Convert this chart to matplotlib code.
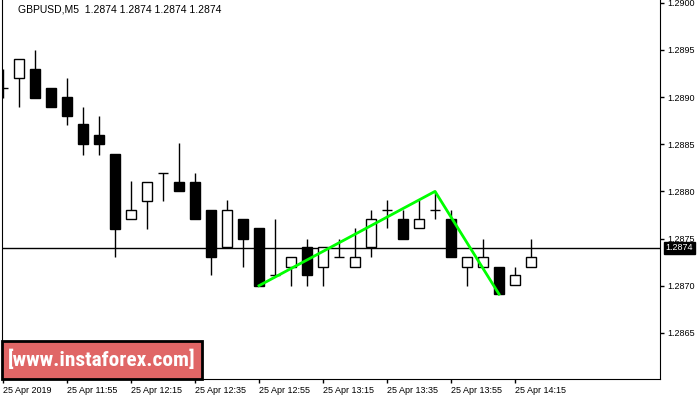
import matplotlib
matplotlib.use("Agg")
import matplotlib.pyplot as plt
from matplotlib import font_manager
from matplotlib.patches import Rectangle

# GBPUSD M5, 25 Apr 2019, candles from 11:35
opens = [1.28910, 1.28920, 1.28930, 1.28910, 1.28900, 1.28871, 1.28860, 1.28840,
         1.28771, 1.28790, 1.28820, 1.28810, 1.28810, 1.28780, 1.28741, 1.28771,
         1.28761, 1.28711, 1.28720, 1.28741, 1.28720, 1.28730, 1.28720, 1.28741,
         1.28780, 1.28771, 1.28761, 1.28780, 1.28771, 1.28720, 1.28720, 1.28720,
         1.28701, 1.28720]
highs = [1.28930, 1.28940, 1.28950, 1.28910, 1.28920, 1.28889, 1.28880, 1.28840,
         1.28811, 1.28810, 1.28820, 1.28851, 1.28820, 1.28780, 1.28791, 1.28771,
         1.28761, 1.28771, 1.28730, 1.28750, 1.28741, 1.28750, 1.28761, 1.28780,
         1.28791, 1.28780, 1.28791, 1.28800, 1.28780, 1.28730, 1.28750, 1.28720,
         1.28720, 1.28750]
lows = [1.28899, 1.28889, 1.28899, 1.28889, 1.28870, 1.28839, 1.28839, 1.28730,
        1.28771, 1.28760, 1.28790, 1.28800, 1.28771, 1.28711, 1.28741, 1.28720,
        1.28700, 1.28711, 1.28700, 1.28700, 1.28700, 1.28730, 1.28720, 1.28730,
        1.28761, 1.28750, 1.28761, 1.28771, 1.28730, 1.28700, 1.28720, 1.28691,
        1.28701, 1.28720]
closes = [1.28910, 1.28940, 1.28899, 1.28889, 1.28880, 1.28850, 1.28850, 1.28760,
          1.28780, 1.28810, 1.28820, 1.28800, 1.28771, 1.28730, 1.28780, 1.28750,
          1.28700, 1.28711, 1.28730, 1.28711, 1.28741, 1.28730, 1.28730, 1.28771,
          1.28780, 1.28750, 1.28771, 1.28780, 1.28730, 1.28730, 1.28730, 1.28691,
          1.28711, 1.28730]

tick_idx = [0, 4, 8, 12, 16, 20, 24, 28, 32]
tick_labels = ["25 Apr 2019", "25 Apr 11:55", "25 Apr 12:15", "25 Apr 12:35",
               "25 Apr 12:55", "25 Apr 13:15", "25 Apr 13:35", "25 Apr 13:55",
               "25 Apr 14:15"]
price_ticks = [1.2865, 1.2870, 1.2875, 1.2880, 1.2885, 1.2890, 1.2895, 1.2900]

# pattern line (index, price)
pattern_x = [16, 27, 31]
pattern_y = [1.28700, 1.28800, 1.28691]
last_price = 1.2874

plt.rcParams["font.family"] = ["Liberation Sans", "DejaVu Sans"]

fig = plt.figure(figsize=(7, 4), dpi=100)
ax = fig.add_axes([2 / 700, 21 / 400, 658 / 700, 379 / 400])

w = 0.66
for i in range(len(opens)):
    o, h, l, c = opens[i], highs[i], lows[i], closes[i]
    ax.vlines(i, l, h, color="black", linewidth=1, zorder=2)
    if abs(c - o) < 1e-6:
        ax.hlines(o, i - w / 2, i + w / 2, color="black", linewidth=1, zorder=3)
    else:
        face = "white" if c > o else "black"
        ax.add_patch(Rectangle((i - w / 2, min(o, c)), w, abs(c - o),
                               facecolor=face, edgecolor="black", linewidth=1, zorder=3))

ax.axhline(last_price, color="black", linewidth=1, zorder=1)
ax.plot(pattern_x, pattern_y, color="#00ff00", linewidth=2, zorder=4)

ax.set_xlim(-0.0625, 41.06)
ax.set_ylim(1.28601, 1.29003)

ax.spines["top"].set_visible(False)
ax.yaxis.tick_right()
ax.set_yticks(price_ticks)
ax.set_yticklabels(["%.4f" % p for p in price_ticks])
ax.set_xticks(tick_idx)
ax.set_xticklabels(tick_labels, ha="left")
ax.tick_params(axis="both", labelsize=6.5, length=3, width=1, direction="out", pad=2)

ax.annotate("%.4f" % last_price, xy=(1.0, last_price), xycoords=("axes fraction", "data"),
            xytext=(4, 0), textcoords="offset points", va="center", ha="left",
            fontsize=6.5, color="white",
            bbox=dict(boxstyle="square,pad=0.2", facecolor="black", edgecolor="black"))

ax.text(0.024, 0.987, "GBPUSD,M5  1.2874 1.2874 1.2874 1.2874", transform=ax.transAxes,
        fontsize=7.5, va="top", ha="left")

# watermark box
ax.add_patch(Rectangle((0.0, 0.0), 200 / 658, 38 / 379, transform=ax.transAxes,
                       facecolor="#e06666", edgecolor="black", linewidth=2,
                       zorder=5, clip_on=False))
names = {f.name for f in font_manager.fontManager.ttflist}
wm_family = "Liberation Sans"
for cand in ["Liberation Sans Narrow", "Roboto Condensed", "Open Sans Condensed"]:
    if cand in names:
        wm_family = cand
        break
wm = ax.text(100 / 658, 19 / 379, "[www.instaforex.com]", transform=ax.transAxes,
             fontsize=16, color="white", fontweight="bold", va="center", ha="center",
             family=wm_family, zorder=6)
fig.canvas.draw()
wm_w = wm.get_window_extent().width
if wm_w > 188:
    wm.set_fontsize(16 * 188 / wm_w)

plt.savefig("out.png", dpi=100)
